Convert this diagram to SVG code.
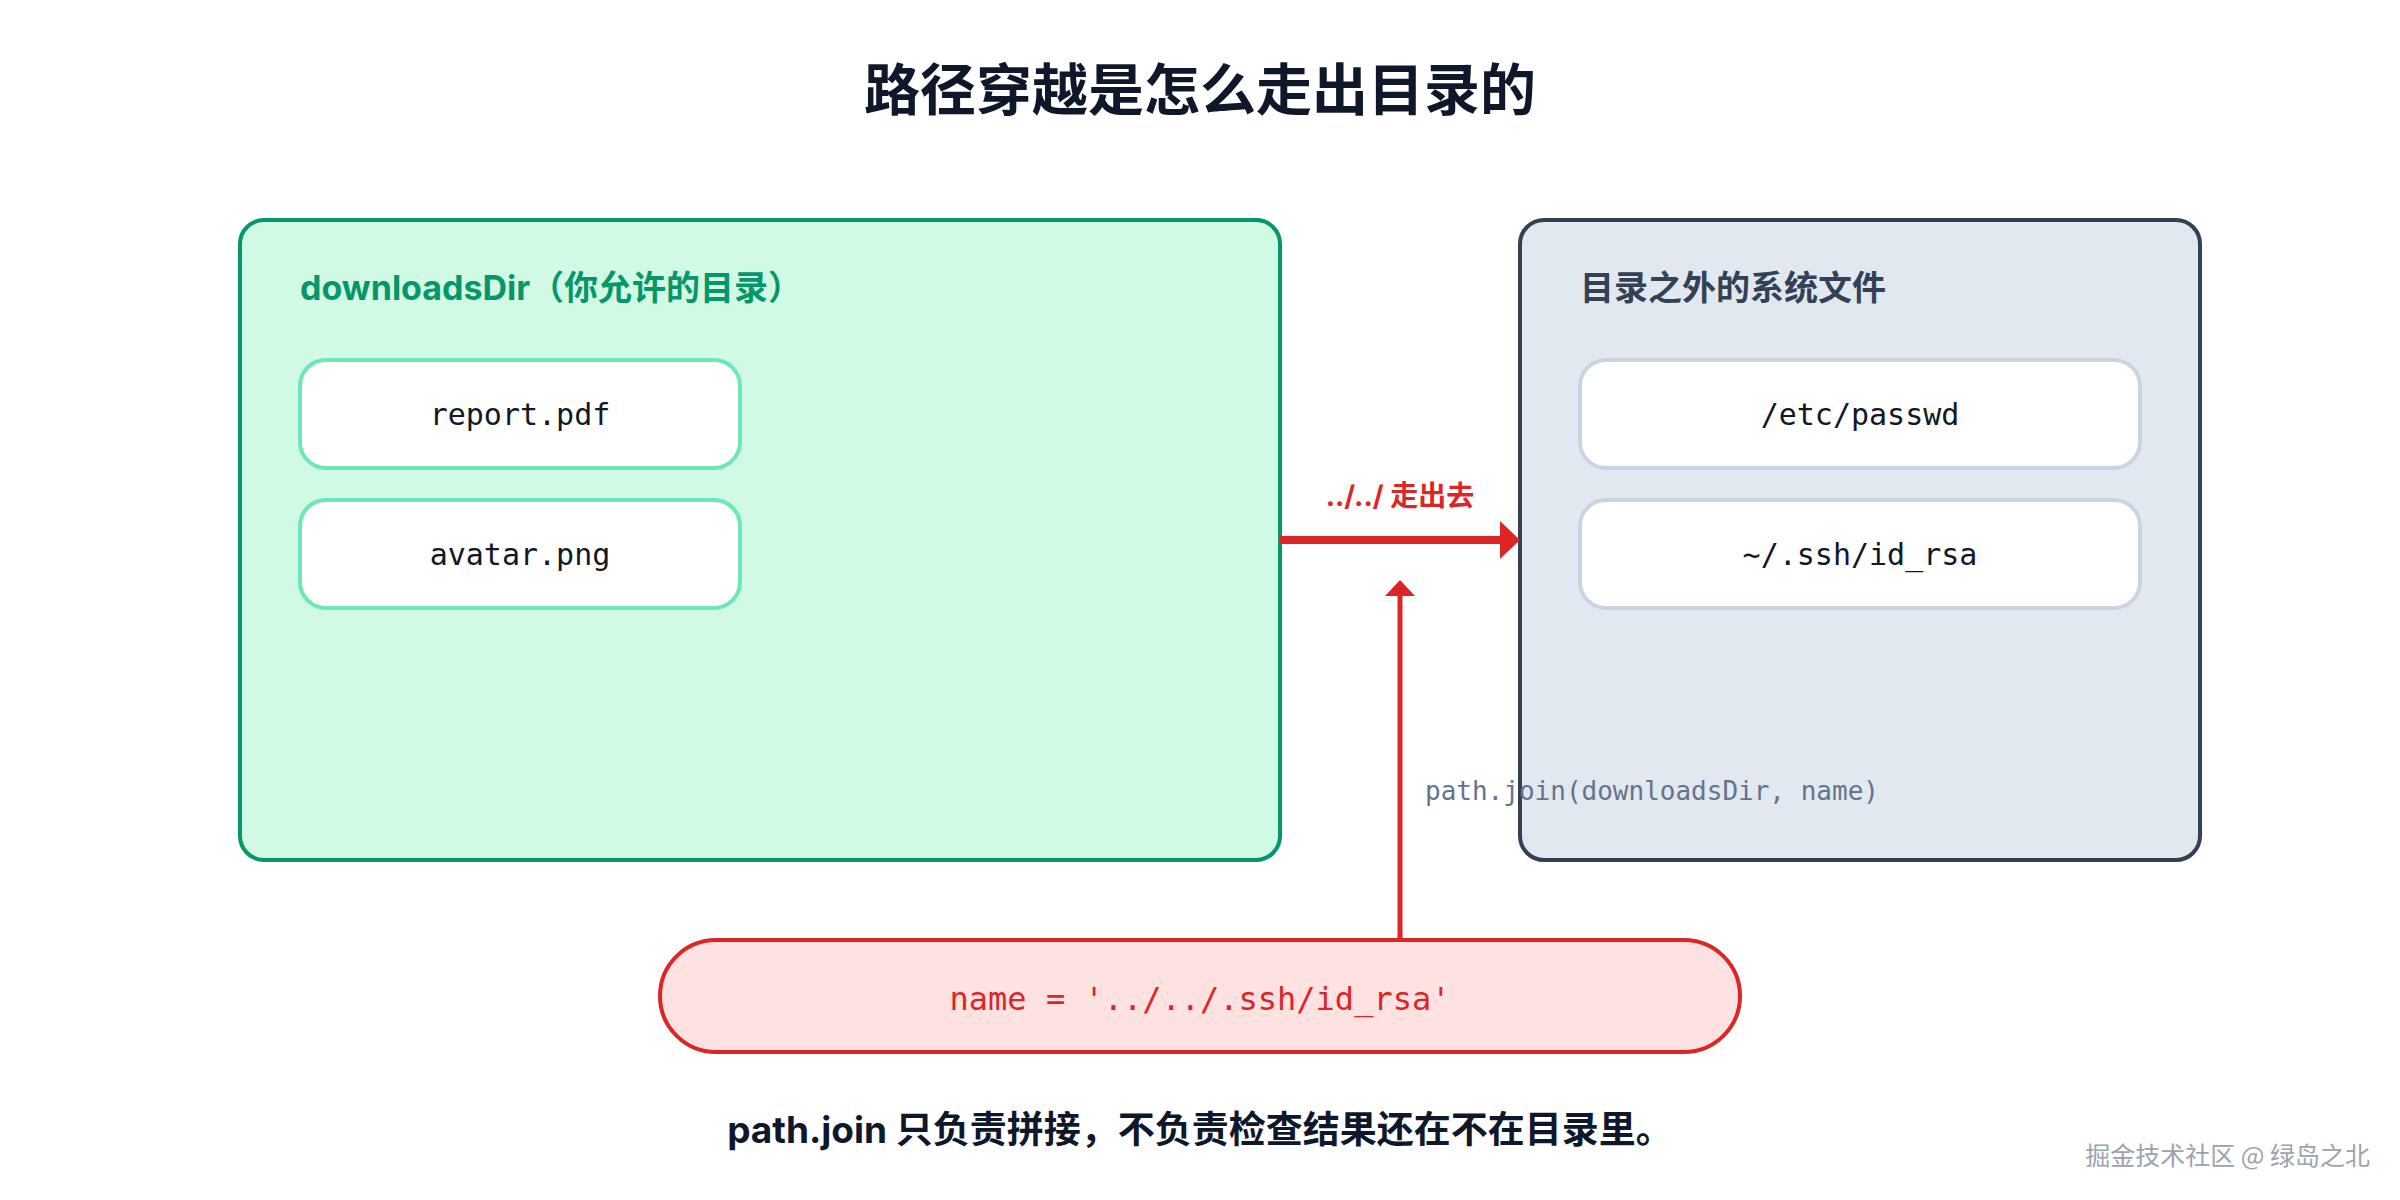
<svg xmlns="http://www.w3.org/2000/svg" width="2400" height="1200" viewBox="0 0 2400 1200">
  <style>
    .title { font-family: Inter, "Noto Sans CJK SC", sans-serif; font-weight: 700; font-size: 56px; fill: #0f172a; }
    .grp-label { font-family: Inter, "Noto Sans CJK SC", sans-serif; font-weight: 700; font-size: 34px; }
    .mono { font-family: "DejaVu Sans Mono", "Liberation Mono", monospace; }
    .file { font-size: 30px; fill: #111827; }
    .edge-label { font-family: Inter, "Noto Sans CJK SC", sans-serif; font-weight: 700; font-size: 28px; fill: #dc2626; }
    .note { font-family: Inter, "Noto Sans CJK SC", sans-serif; font-weight: 700; font-size: 37px; fill: #0f172a; }
    .wm { font-family: "Noto Sans CJK SC", sans-serif; font-size: 25px; fill: #9ca3af; }
  </style>
  <defs>
    <marker id="headH" markerUnits="userSpaceOnUse" markerWidth="20" markerHeight="38" refX="0" refY="19" orient="auto">
      <path d="M0,0 L20,19 L0,38 z" fill="#dc2626"/>
    </marker>
    <marker id="headV" markerUnits="userSpaceOnUse" markerWidth="16" markerHeight="30" refX="0" refY="15" orient="auto">
      <path d="M0,0 L16,15 L0,30 z" fill="#dc2626"/>
    </marker>
  </defs>
  <rect width="2400" height="1200" fill="#ffffff"/>

  <text class="title" x="1200" y="110" text-anchor="middle">路径穿越是怎么走出目录的</text>

  <g id="downloadsDir">
    <rect x="240" y="220" width="1040" height="640" rx="24" fill="#d1fae5" stroke="#059669" stroke-width="4"/>
    <text class="grp-label" x="300" y="300" fill="#059669">downloadsDir（你允许的目录）</text>
  </g>
  <g id="report">
    <rect x="300" y="360" width="440" height="108" rx="26" fill="#ffffff" stroke="#6ee7b7" stroke-width="4"/>
    <text class="mono file" x="520" y="425" text-anchor="middle">report.pdf</text>
  </g>
  <g id="avatar">
    <rect x="300" y="500" width="440" height="108" rx="26" fill="#ffffff" stroke="#6ee7b7" stroke-width="4"/>
    <text class="mono file" x="520" y="565" text-anchor="middle">avatar.png</text>
  </g>

  <g id="outside">
    <rect x="1520" y="220" width="680" height="640" rx="24" fill="#e2e8f0" stroke="#334155" stroke-width="4"/>
    <text class="grp-label" x="1580" y="300" fill="#334155">目录之外的系统文件</text>
  </g>
  <g id="passwd">
    <rect x="1580" y="360" width="560" height="108" rx="26" fill="#ffffff" stroke="#cbd5e1" stroke-width="4"/>
    <text class="mono file" x="1860" y="425" text-anchor="middle">/etc/passwd</text>
  </g>
  <g id="idrsa">
    <rect x="1580" y="500" width="560" height="108" rx="26" fill="#ffffff" stroke="#cbd5e1" stroke-width="4"/>
    <text class="mono file" x="1860" y="565" text-anchor="middle">~/.ssh/id_rsa</text>
  </g>

  <g id="name-input">
    <rect x="660" y="940" width="1080" height="112" rx="56" fill="#fee2e2" stroke="#dc2626" stroke-width="4"/>
    <text class="mono" x="1200" y="1010" text-anchor="middle" font-size="32" fill="#dc2626">name = '../../.ssh/id_rsa'</text>
  </g>

  <g id="connectors">
    <line x1="1280" y1="540" x2="1500" y2="540" stroke="#dc2626" stroke-width="8" marker-end="url(#headH)"/>
    <text class="edge-label" x="1400" y="506" text-anchor="middle">../../ 走出去</text>
    <line x1="1400" y1="940" x2="1400" y2="596" stroke="#dc2626" stroke-width="5" marker-end="url(#headV)"/>
    <text class="mono" x="1425" y="800" font-size="26" fill="#64748b">path.join(downloadsDir, name)</text>
  </g>

  <text class="note" x="1200" y="1143" text-anchor="middle">path.join 只负责拼接，不负责检查结果还在不在目录里。</text>

  <text class="wm" x="2370" y="1165" text-anchor="end">掘金技术社区 @ 绿岛之北</text>
</svg>
